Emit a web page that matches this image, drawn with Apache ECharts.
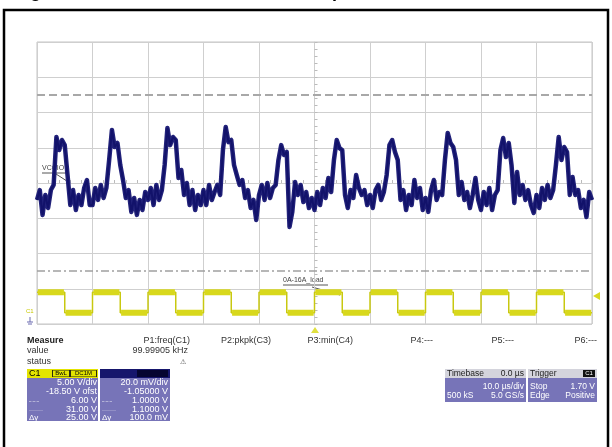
<!DOCTYPE html>
<html>
<head>
<meta charset="utf-8">
<script src="https://cdn.jsdelivr.net/npm/echarts@6/dist/echarts.min.js"></script>
<style>
html, body { margin: 0; padding: 0; background: #fff; }
#scope { width: 612px; height: 447px; }
</style>
</head>
<body>
<div id="scope"></div>
<script>
// time base: 10 us/div, trigger at 0
var timeStart = -50;
var sampleStep = 0.5;   // us between trace samples
var loadStep = 5;       // us per load level (half period)

// C3: VCCIO (V), one sample every 0.5 us
var vccioTrace = [
    1.0404, 1.0460, 1.0319, 1.0432, 1.0358, 1.0460, 1.0489, 1.0761, 1.0687, 1.0744,
    1.0715, 1.0545, 1.0375, 1.0460, 1.0347, 1.0432, 1.0375, 1.0472, 1.0517, 1.0375,
    1.0375, 1.0472, 1.0404, 1.0489, 1.0415, 1.0472, 1.0630, 1.0801, 1.0704, 1.0727,
    1.0602, 1.0517, 1.0415, 1.0460, 1.0336, 1.0415, 1.0319, 1.0404, 1.0347, 1.0449,
    1.0404, 1.0472, 1.0375, 1.0489, 1.0404, 1.0460, 1.0602, 1.0812, 1.0715, 1.0761,
    1.0744, 1.0528, 1.0574, 1.0432, 1.0500, 1.0375, 1.0460, 1.0347, 1.0432, 1.0375,
    1.0460, 1.0375, 1.0489, 1.0404, 1.0449, 1.0489, 1.0432, 1.0687, 1.0818, 1.0732,
    1.0744, 1.0602, 1.0545, 1.0489, 1.0517, 1.0415, 1.0460, 1.0358, 1.0404, 1.0290,
    1.0432, 1.0489, 1.0404, 1.0500, 1.0415, 1.0472, 1.0489, 1.0630, 1.0715, 1.0659,
    1.0676, 1.0251, 1.0336, 1.0506, 1.0432, 1.0489, 1.0392, 1.0449, 1.0358, 1.0415,
    1.0347, 1.0449, 1.0375, 1.0472, 1.0415, 1.0528, 1.0449, 1.0630, 1.0744, 1.0698,
    1.0687, 1.0432, 1.0358, 1.0460, 1.0415, 1.0545, 1.0472, 1.0432, 1.0460, 1.0375,
    1.0432, 1.0358, 1.0460, 1.0489, 1.0404, 1.0449, 1.0545, 1.0715, 1.0744, 1.0676,
    1.0630, 1.0404, 1.0460, 1.0347, 1.0432, 1.0375, 1.0517, 1.0415, 1.0472, 1.0347,
    1.0415, 1.0336, 1.0460, 1.0517, 1.0404, 1.0449, 1.0432, 1.0630, 1.0784, 1.0727,
    1.0704, 1.0630, 1.0432, 1.0506, 1.0404, 1.0449, 1.0358, 1.0432, 1.0528, 1.0404,
    1.0347, 1.0449, 1.0375, 1.0472, 1.0347, 1.0432, 1.0460, 1.0687, 1.0755, 1.0647,
    1.0727, 1.0602, 1.0387, 1.0562, 1.0432, 1.0489, 1.0404, 1.0460, 1.0375, 1.0330,
    1.0432, 1.0358, 1.0472, 1.0404, 1.0489, 1.0415, 1.0460, 1.0602, 1.0761, 1.0630,
    1.0704, 1.0676, 1.0432, 1.0534, 1.0432, 1.0460, 1.0358, 1.0404, 1.0307, 1.0449,
    1.0404
];

// C1: load step signal (V), one level per 5 us
var loadLevels = [
    3.0, 0.1, 3.0, 0.1, 3.0, 0.1, 3.0, 0.1, 3.0, 0.1,
    3.0, 0.1, 3.0, 0.1, 3.0, 0.1, 3.0, 0.1, 3.0, 0.1
];

// cursors (C1 scale)
var cursorHigh = 31.0;
var cursorLow = 6.0;

var measureHeads = ['P1:freq(C1)', 'P2:pkpk(C3)', 'P3:min(C4)', 'P4:---', 'P5:---', 'P6:---'];
var measureRight = [190, 271, 353, 433, 514, 597];
var measureValue = '99.99905 kHz';

var c1Rows = ['5.00 V/div', '-18.50 V ofst', '6.00 V', '31.00 V', '25.00 V'];
var c3Rows = ['20.0 mV/div', '-1.05000 V', '1.0000 V', '1.1000 V', '100.0 mV'];
var rowSymbols = ['', '', '-·-·-', '·······', 'Δy'];

var FONT = 'Liberation Sans, Arial, sans-serif';
var BOX = '#7774b8';

function txt(x, y, s, o) {
    o = o || {};
    return {
        type: 'text', silent: true,
        style: {
            x: x, y: y, text: s,
            fill: o.fill || '#333',
            font: (o.weight || 'normal') + ' ' + (o.size || 9) + 'px ' + FONT,
            align: o.align || 'left',
            verticalAlign: o.valign || 'middle'
        }
    };
}
function rect(x, y, w, h, fill, stroke) {
    return {
        type: 'rect', silent: true,
        shape: { x: x, y: y, width: w, height: h },
        style: { fill: fill, stroke: stroke || null, lineWidth: 1 }
    };
}
function seg(x1, y1, x2, y2, color, w) {
    return {
        type: 'line', silent: true,
        shape: { x1: x1, y1: y1, x2: x2, y2: y2 },
        style: { stroke: color, lineWidth: w || 1 }
    };
}

var traceData = vccioTrace.map(function (v, i) {
    return [timeStart + i * sampleStep, v];
});
// load step: thin edges ...
var loadData = loadLevels.map(function (v, i) {
    return [timeStart + i * loadStep, v];
});
loadData.push([timeStart + loadLevels.length * loadStep, loadLevels[loadLevels.length - 1]]);
// ... and thick flat tops (noise band), broken between levels
var loadFlat = [];
loadLevels.forEach(function (v, i) {
    var t = timeStart + i * loadStep;
    loadFlat.push([t + 0.15, v], [t + loadStep - 0.15, v], '-');
});

var graphics = [];
// page frame and clipped caption (only descenders show above the frame)
graphics.push({
    type: 'rect', silent: true,
    shape: { x: 4, y: 10, width: 604, height: 450 },
    style: { fill: null, stroke: '#000', lineWidth: 2.5 }
});
graphics.push(txt(14, 1.5, 'Figure 12. VCCIO Load Transient Response', { size: 18, weight: 'bold', fill: '#000', valign: 'bottom' }));

// trace labels
graphics.push(txt(42, 168, 'VCCIO', { size: 7, fill: '#444' }));
graphics.push(seg(42, 173, 66, 173, '#555'));
graphics.push(seg(56, 174, 70, 183, '#555'));
graphics.push(txt(283, 280, '0A-16A_load', { size: 7, fill: '#444' }));
graphics.push(seg(283, 285, 328, 285, '#555'));
graphics.push(seg(312, 287, 340, 295, '#555'));

// channel / trigger markers
graphics.push(txt(26, 311, 'C1', { size: 6, fill: '#c8c800' }));
graphics.push(seg(30, 317, 30, 322, '#6a6ab0'));
graphics.push(seg(27, 322, 33, 322, '#6a6ab0'));
graphics.push(seg(28, 324, 32, 324, '#6a6ab0'));
graphics.push({ type: 'polygon', silent: true, shape: { points: [[593, 296], [600, 292], [600, 300]] }, style: { fill: '#d8d820' } });
graphics.push({ type: 'polygon', silent: true, shape: { points: [[315, 327], [311, 333], [319, 333]] }, style: { fill: '#e0e040' } });

// measure table
graphics.push(txt(27, 341, 'Measure', { weight: 'bold', fill: '#222' }));
graphics.push(txt(27, 351, 'value'));
graphics.push(txt(27, 362, 'status'));
measureHeads.forEach(function (h, i) {
    graphics.push(txt(measureRight[i], 341, h, { align: 'right' }));
});
graphics.push(txt(measureRight[0] - 2, 351, measureValue, { align: 'right' }));
graphics.push(txt(183, 362, '⚠', { size: 7, fill: '#444', align: 'center' }));

// C1 descriptor box
graphics.push(rect(27, 369, 71, 52, BOX));
graphics.push(rect(27, 369, 71, 9, '#e4e400'));
graphics.push(txt(29, 373.5, 'C1', { fill: '#000' }));
graphics.push(rect(52, 370, 45, 7, '#2a2a10'));
graphics.push(rect(53, 370.5, 16, 6, '#e4e400'));
graphics.push(rect(71, 370.5, 25, 6, '#e4e400'));
graphics.push(txt(61, 373.5, 'BwL', { size: 6, fill: '#000', align: 'center' }));
graphics.push(txt(83.5, 373.5, 'DC1M', { size: 6, fill: '#000', align: 'center' }));
// C3 descriptor box
graphics.push(rect(100, 369, 70, 52, BOX));
graphics.push(rect(100, 369, 70, 9, '#16166c'));
graphics.push(rect(137, 370, 31, 7, '#050530'));
var rowY = [383, 392, 401, 410, 418];
rowY.forEach(function (y, i) {
    graphics.push(txt(97, y, c1Rows[i], { fill: '#fff', align: 'right' }));
    graphics.push(txt(168, y, c3Rows[i], { fill: '#fff', align: 'right' }));
    if (rowSymbols[i]) {
        graphics.push(txt(29, y, rowSymbols[i], { fill: '#fff', size: i === 4 ? 8 : 6 }));
        graphics.push(txt(102, y, rowSymbols[i], { fill: '#fff', size: i === 4 ? 8 : 6 }));
    }
});

// timebase box
graphics.push(rect(445, 369, 81, 33, BOX));
graphics.push(rect(445, 369, 81, 9, '#d4d4dc'));
graphics.push(txt(447, 373.5, 'Timebase', { fill: '#222', size: 8.5 }));
graphics.push(txt(524, 373.5, '0.0 µs', { fill: '#222', align: 'right', size: 8.5 }));
graphics.push(txt(524, 387, '10.0 µs/div', { fill: '#fff', align: 'right', size: 8.5 }));
graphics.push(txt(447, 396, '500 kS', { fill: '#fff', size: 8.5 }));
graphics.push(txt(524, 396, '5.0 GS/s', { fill: '#fff', align: 'right', size: 8.5 }));
// trigger box
graphics.push(rect(528, 369, 69, 33, BOX));
graphics.push(rect(528, 369, 69, 9, '#d4d4dc'));
graphics.push(txt(530, 373.5, 'Trigger', { fill: '#222', size: 8.5 }));
graphics.push(rect(583, 370, 12, 7, '#111'));
graphics.push(txt(589, 373.5, 'C1', { size: 6, fill: '#fff', align: 'center' }));
graphics.push(txt(530, 387, 'Stop', { fill: '#fff', size: 8.5 }));
graphics.push(txt(595, 387, '1.70 V', { fill: '#fff', align: 'right', size: 8.5 }));
graphics.push(txt(530, 396, 'Edge', { fill: '#fff', size: 8.5 }));
graphics.push(txt(595, 396, 'Positive', { fill: '#fff', align: 'right', size: 8.5 }));

var chart = echarts.init(document.getElementById('scope'));
var gridColor = '#cfcfcf';
var option = {
    animation: false,
    backgroundColor: '#fff',
    grid: {
        left: 37, top: 42, width: 555, height: 282,
        show: true, borderColor: '#c4c4c4', borderWidth: 1, backgroundColor: '#fff'
    },
    xAxis: {
        type: 'value', min: -50, max: 50, interval: 10,
        axisLabel: { show: false },
        axisLine: { show: true, onZero: true, onZeroAxisIndex: 0, lineStyle: { color: gridColor } },
        axisTick: { show: true, inside: true, length: 3, lineStyle: { color: '#bbb' } },
        minorTick: { show: true, splitNumber: 5, length: 3, lineStyle: { color: '#bbb' } },
        splitLine: { show: true, lineStyle: { color: gridColor, width: 1 } }
    },
    yAxis: [
        {
            // graticule: 8 divisions, centred on 0
            type: 'value', min: -4, max: 4, interval: 1,
            axisLabel: { show: false },
            axisLine: { show: true, onZero: true, lineStyle: { color: gridColor } },
            axisTick: { show: true, inside: true, length: 3, lineStyle: { color: '#bbb' } },
            minorTick: { show: true, splitNumber: 5, length: 3, lineStyle: { color: '#bbb' } },
            splitLine: { show: true, lineStyle: { color: gridColor, width: 1 } }
        },
        // C3: 20 mV/div around 1.05 V
        { type: 'value', min: 0.97, max: 1.13, show: false, splitLine: { show: false } },
        // C1: 5 V/div, offset -18.5 V
        { type: 'value', min: -1.5, max: 38.5, show: false, splitLine: { show: false } }
    ],
    series: [
        {
            name: 'C1',
            type: 'line',
            yAxisIndex: 2,
            step: 'end',
            showSymbol: false,
            data: loadData,
            lineStyle: { color: '#c8c810', width: 1.5 },
            z: 3,
            markLine: {
                silent: true,
                symbol: 'none',
                label: { show: false },
                data: [
                    { yAxis: cursorHigh, lineStyle: { color: '#a8a8a8', width: 2, type: [8, 4] } },
                    { yAxis: cursorLow, lineStyle: { color: '#a0a0a0', width: 1.5, type: [8, 3, 2, 3] } }
                ]
            }
        },
        {
            name: 'C1 band',
            type: 'line',
            yAxisIndex: 2,
            showSymbol: false,
            connectNulls: false,
            data: loadFlat,
            lineStyle: { color: '#d8d81c', width: 6, cap: 'butt' },
            z: 3
        },
        {
            name: 'C3 band',
            type: 'line',
            yAxisIndex: 1,
            showSymbol: false,
            data: traceData,
            lineStyle: { color: '#22227a', width: 4.5, join: 'round' },
            z: 4
        },
        {
            name: 'C3',
            type: 'line',
            yAxisIndex: 1,
            showSymbol: false,
            data: traceData,
            lineStyle: { color: '#12126a', width: 2 },
            z: 5
        }
    ],
    graphic: graphics
};
chart.setOption(option);
</script>
</body>
</html>
